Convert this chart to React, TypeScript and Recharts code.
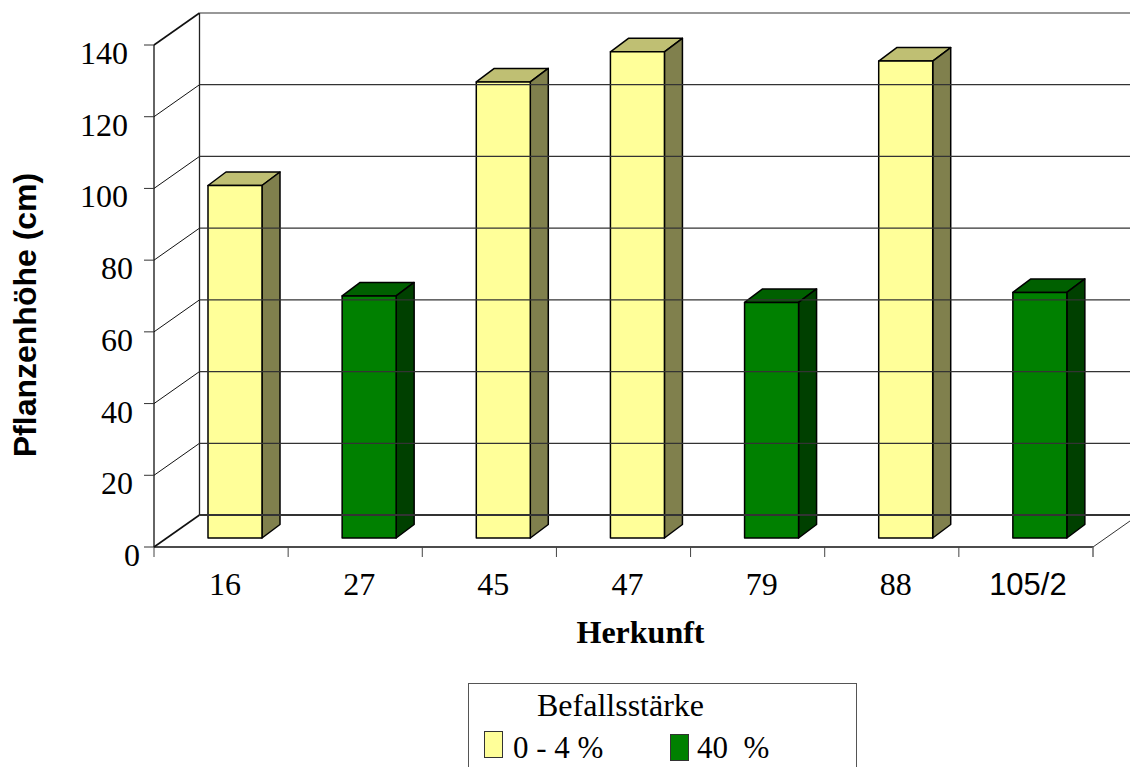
import { BarChart, Bar, XAxis, YAxis } from 'recharts';

const herkunft = ['16', '27', '45', '47', '79', '88', '105/2'];
const befallLow = [98.3, null, 127.2, 135.6, null, 133, null];
const befallHigh = [null, 67.5, null, null, 65.7, null, 68.5];
const yTicks = [0, 20, 40, 60, 80, 100, 120, 140];

const chartData = herkunft.map((name, i) => ({ name, low: befallLow[i], high: befallHigh[i] }));

const SERIF = '"Liberation Serif", "Times New Roman", serif';
const SANS = '"Liberation Sans", Arial, sans-serif';

const WIDTH = 1130;
const HEIGHT = 767;
const PLOT_LEFT = 154;
const PLOT_RIGHT = 1093;
const PLOT_TOP = 45;
const PLOT_BOTTOM = 547;

// depth of the chart's box, and of each column
const WALL_DX = 45.5;
const WALL_DY = 32;
const BAR_DX = 18;
const BAR_DY = 13.5;
const BAR_SHIFT_X = 14;
const BAR_LIFT = 9;

// gap between the axis and the label's right edge, by number of digits
const labelGap = (v: number) => (v >= 100 ? 26 : v >= 10 ? 21 : 14);

const YTick = ({ y, payload }: any) => {
  const v = payload.value;
  const backY = y - WALL_DY;
  const backX = PLOT_LEFT + WALL_DX;
  return (
    <g>
      <line x1={PLOT_LEFT - 10} x2={PLOT_LEFT} y1={y} y2={y} stroke="#333" strokeWidth={1} />
      <line x1={PLOT_LEFT} y1={y} x2={backX} y2={backY} stroke="#111" strokeWidth={v === 140 || v === 0 ? 1.6 : 1} />
      <line x1={backX} y1={backY} x2={WIDTH} y2={backY} stroke="#333" strokeWidth={v === 0 ? 2 : 1.2} />
      {v === 0 && (
        <>
          <line x1={backX} y1={PLOT_TOP - WALL_DY} x2={backX} y2={backY} stroke="#222" strokeWidth={1.3} />
          <line x1={PLOT_RIGHT} y1={y} x2={WIDTH} y2={y - (WIDTH - PLOT_RIGHT) * (WALL_DY / WALL_DX)} stroke="#333" strokeWidth={1} />
        </>
      )}
      <text x={PLOT_LEFT - labelGap(v)} y={y + 19} textAnchor="end" fontFamily={SERIF} fontSize={32} fill="#000">
        {v}
      </text>
    </g>
  );
};

const XTick = ({ x, payload, index }: any) => {
  const isLast = payload.value === '105/2';
  const bandLeft = PLOT_LEFT + index * ((PLOT_RIGHT - PLOT_LEFT) / herkunft.length);
  return (
    <g>
      <line x1={bandLeft} x2={bandLeft} y1={PLOT_BOTTOM} y2={PLOT_BOTTOM + 10} stroke="#444" strokeWidth={1} />
      {isLast && (
        <line x1={PLOT_RIGHT} x2={PLOT_RIGHT} y1={PLOT_BOTTOM} y2={PLOT_BOTTOM + 10} stroke="#666" strokeWidth={1.5} />
      )}
      <text
        x={isLast ? x + 2 : x + 4}
        y={PLOT_BOTTOM + 48}
        textAnchor="middle"
        fontFamily={isLast ? SANS : SERIF}
        fontSize={isLast ? 31 : 32}
        fill="#000"
      >
        {payload.value}
      </text>
    </g>
  );
};

// a column drawn as a front face with a top and a side face behind it
const Column3D = ({ x, y, width, height, front, top, side }: any) => {
  if (!height) return null;
  const l = x + BAR_SHIFT_X;
  const r = l + width;
  const t = y - BAR_LIFT;
  const b = t + height;
  return (
    <g stroke="#000" strokeWidth={1.5} strokeLinejoin="round">
      <polygon points={`${l},${t} ${l + BAR_DX},${t - BAR_DY} ${r + BAR_DX},${t - BAR_DY} ${r},${t}`} fill={top} />
      <polygon points={`${r},${t} ${r + BAR_DX},${t - BAR_DY} ${r + BAR_DX},${b - BAR_DY} ${r},${b}`} fill={side} />
      <rect x={l} y={t} width={width} height={height} fill={front} />
    </g>
  );
};

const Swatch = ({ left, top, color }: { left: number; top: number; color: string }) => (
  <div
    style={{
      position: 'absolute',
      left,
      top,
      width: 19,
      height: 27,
      background: color,
      border: '1px solid #333',
      boxSizing: 'border-box',
    }}
  />
);

const LegendBox = () => (
  <div
    style={{
      position: 'absolute',
      left: 468,
      top: 683,
      width: 389,
      height: 100,
      border: '1px solid #555',
      boxSizing: 'border-box',
      background: '#fff',
      fontFamily: SERIF,
      fontSize: 31,
      color: '#000',
      lineHeight: '36px',
      whiteSpace: 'pre',
    }}
  >
    <div style={{ position: 'absolute', left: 68, top: 3, fontSize: 32 }}>Befallsstärke</div>
    <Swatch left={15} top={47} color="#FFFF99" />
    <div style={{ position: 'absolute', left: 44, top: 46 }}>0 - 4 %</div>
    <Swatch left={201} top={50} color="#008000" />
    <div style={{ position: 'absolute', left: 228, top: 46 }}>40  %</div>
  </div>
);

const App = () => {
  return (
    <div style={{ position: 'absolute', left: 0, top: 0, width: WIDTH, height: HEIGHT, overflow: 'hidden', background: '#fff' }}>
      <BarChart
        width={WIDTH}
        height={HEIGHT}
        data={chartData}
        margin={{ top: PLOT_TOP, right: WIDTH - PLOT_RIGHT, bottom: 0, left: 0 }}
        barSize={54}
      >
        <XAxis
          dataKey="name"
          height={HEIGHT - PLOT_BOTTOM}
          axisLine={{ stroke: '#111', strokeWidth: 1.6 }}
          tickLine={false}
          tick={<XTick />}
          interval={0}
        />
        <YAxis
          width={PLOT_LEFT}
          domain={[0, 140]}
          ticks={yTicks}
          axisLine={{ stroke: '#111', strokeWidth: 1.3 }}
          tickLine={false}
          tick={<YTick />}
          interval={0}
        />
        <Bar
          dataKey="low"
          stackId="a"
          isAnimationActive={false}
          shape={(p: any) => <Column3D {...p} front="#FFFF99" top="#BFBF73" side="#80804D" />}
        />
        <Bar
          dataKey="high"
          stackId="a"
          isAnimationActive={false}
          shape={(p: any) => <Column3D {...p} front="#008000" top="#006000" side="#004000" />}
        />
        <text x={640.5} y={643} textAnchor="middle" fontFamily={SERIF} fontWeight="bold" fontSize={32} fill="#000">
          Herkunft
        </text>
        <text
          transform="translate(36 315) rotate(-90)"
          textAnchor="middle"
          fontFamily={SANS}
          fontWeight="bold"
          fontSize={32}
          fill="#000"
        >
          Pflanzenhöhe (cm)
        </text>
      </BarChart>
      <LegendBox />
    </div>
  );
};

export default App;
